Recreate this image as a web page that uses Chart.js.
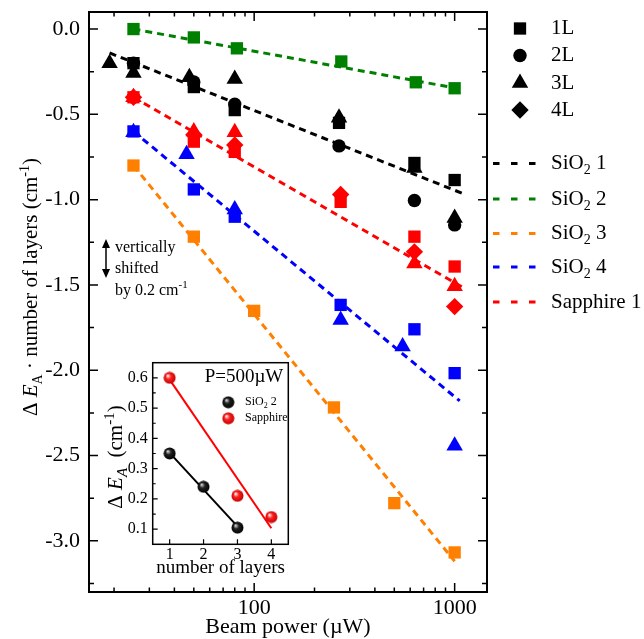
<!DOCTYPE html>
<html lang="en">
<head>
<meta charset="UTF-8">
<title>Delta E_A vs beam power</title>
<script src="https://cdn.jsdelivr.net/npm/chart.js"></script>
<style>
  body { margin: 0; background: #fff; }
  #wrap { position: relative; width: 644px; height: 639px; }
  #mainChart { position: absolute; left: 0; top: 0; }
  #insetChart { position: absolute; left: 95px; top: 355px; }
</style>
</head>
<body>
<div id="wrap">
  <canvas id="mainChart" width="644" height="639"></canvas>
  <canvas id="insetChart" width="200" height="225"></canvas>
</div>
<script>
// beam power (uW) per substrate, and dE_A * layers (cm-1) per layer count (null = no point)
const powerSiO2_1 = [19, 25, 47.5, 50, 80, 265, 630, 1000];
const sio2_1_1L = [null, -0.20, null, -0.34, -0.475, -0.55, -0.785, -0.885];
const sio2_1_2L = [null, -0.20, null, -0.31, -0.44, -0.685, -1.005, -1.148];
const sio2_1_3L = [-0.20, -0.257, -0.283, null, -0.293, -0.52, -0.815, -1.107];

const powerSiO2_2 = [25, 50, 82, 272, 640, 1000];
const sio2_2_1L = [0.0, -0.049, -0.113, -0.19, -0.312, -0.347];

const powerSiO2_3 = [25, 50, 100, 250, 500, 1000];
const sio2_3_1L = [-0.80, -1.217, -1.652, -2.218, -2.779, -3.068];

const powerSiO2_4 = [25, 46, 50, 80, 270, 550, 630, 1000];
const sio2_4_1L = [-0.60, null, -0.94, -1.10, -1.617, null, -1.76, -2.017];
const sio2_4_3L = [-0.605, -0.734, null, -1.058, -1.705, -1.861, null, -2.443];

const powerSapphire_1 = [25, 50, 80, 270, 630, 1000];
const sapphire_1_1L = [-0.40, -0.66, -0.72, -1.013, -1.217, -1.392];
const sapphire_1_2L = [-0.40, null, null, null, null, null];
const sapphire_1_3L = [-0.40, -0.60, -0.605, null, -1.375, -1.507];
const sapphire_1_4L = [-0.40, -0.62, -0.68, -0.97, -1.306, -1.627];

// dashed fit lines, end points
const fitSiO2_1_x = [19, 1130];    const fitSiO2_1_y = [-0.14, -0.97];
const fitSiO2_2_x = [25, 1000];    const fitSiO2_2_y = [0.0, -0.345];
const fitSiO2_3_x = [25, 1000];    const fitSiO2_3_y = [-0.80, -3.12];
const fitSiO2_4_x = [25, 1060];    const fitSiO2_4_y = [-0.60, -2.18];
const fitSapph_1_x = [25, 1100];   const fitSapph_1_y = [-0.40, -1.515];

// inset: P = 500 uW
const insetLayers = [1, 2, 3, 4];
const insetSiO2_2 = [0.35, 0.24, 0.105, null];
const insetSapphire = [0.60, null, 0.21, 0.14];
const insetFitSiO2_x = [1, 3];   const insetFitSiO2_y = [0.352, 0.109];
const insetFitSapph_x = [1, 4];  const insetFitSapph_y = [0.594, 0.103];

// ticks
const xMajorTicks = [100, 1000];
const xMinorTicks = [20, 30, 40, 50, 60, 70, 80, 90, 200, 300, 400, 500, 600, 700, 800, 900];
const yMajorTicks = [0, -0.5, -1, -1.5, -2, -2.5, -3];
const yMinorTicks = [-0.25, -0.75, -1.25, -1.75, -2.25, -2.75, -3.25];
const insetYMajor = [0.1, 0.2, 0.3, 0.4, 0.5, 0.6];
const insetYMinor = [0.15, 0.25, 0.35, 0.45, 0.55];
const insetXTicks = [1, 2, 3, 4];

const SERIF = '"Liberation Serif", "Times New Roman", serif';
const BLACK = '#000000', GREEN = '#008000', ORANGE = '#ff8000', BLUE = '#0000ff', RED = '#ff0000';

const shapes = {
  '1L': { pointStyle: 'rect', radius: 8.7 },
  '2L': { pointStyle: 'circle', radius: 6.7 },
  '3L': { pointStyle: 'triangle', radius: 9.5 },
  '4L': { pointStyle: 'rectRot', radius: 8.7 }
};

function pts(xs, ys) {
  return xs.map((x, i) => (ys[i] == null ? null : { x: x, y: ys[i] })).filter(p => p);
}

function markers(xs, ys, layer, color) {
  const s = shapes[layer];
  return {
    data: pts(xs, ys),
    pointStyle: s.pointStyle,
    pointRadius: s.radius,
    pointHoverRadius: s.radius,
    backgroundColor: color,
    borderWidth: 0,
    order: 0
  };
}

function fit(xs, ys, color) {
  return {
    data: pts(xs, ys),
    showLine: true,
    borderColor: color,
    borderWidth: 3,
    borderDash: [7, 5],
    pointRadius: 0,
    pointHoverRadius: 0,
    fill: false,
    order: 1
  };
}

// no extra padding for half-labels at the axis ends
function noPad(s) {
  s.paddingTop = 0; s.paddingBottom = 0; s.paddingLeft = 0; s.paddingRight = 0;
}

// draw a string made of parts: [text, size, style, dy]
function richWidth(ctx, parts) {
  let w = 0;
  parts.forEach(p => {
    ctx.font = (p[2] || '') + ' ' + p[1] + 'px ' + SERIF;
    w += ctx.measureText(p[0]).width;
  });
  return w;
}
function richText(ctx, parts, x, y) {
  let cx = x;
  parts.forEach(p => {
    ctx.font = (p[2] || '') + ' ' + p[1] + 'px ' + SERIF;
    ctx.fillText(p[0], cx, y + (p[3] || 0));
    cx += ctx.measureText(p[0]).width;
  });
}

const framePlugin = {
  id: 'frame',
  afterDatasetsDraw(chart) {
    const { ctx, chartArea: a } = chart;
    const x = chart.scales.x, y = chart.scales.y;
    ctx.save();
    ctx.strokeStyle = '#000';
    ctx.lineWidth = 1.5;
    ctx.beginPath();
    const xt = (v, len) => {
      const px = x.getPixelForValue(v);
      ctx.moveTo(px, a.bottom); ctx.lineTo(px, a.bottom - len);
      ctx.moveTo(px, a.top); ctx.lineTo(px, a.top + len);
    };
    const yt = (v, len) => {
      const py = y.getPixelForValue(v);
      ctx.moveTo(a.left, py); ctx.lineTo(a.left + len, py);
      ctx.moveTo(a.right, py); ctx.lineTo(a.right - len, py);
    };
    xMajorTicks.forEach(v => xt(v, 9));
    xMinorTicks.forEach(v => xt(v, 4.5));
    yMajorTicks.forEach(v => yt(v, 9));
    yMinorTicks.forEach(v => yt(v, 5));
    ctx.stroke();
    ctx.lineWidth = 2;
    ctx.strokeRect(a.left, a.top, a.right - a.left, a.bottom - a.top);
    ctx.restore();
  }
};

const textPlugin = {
  id: 'texts',
  afterDraw(chart) {
    const ctx = chart.ctx;
    const a = chart.chartArea;
    ctx.save();
    ctx.fillStyle = '#000';
    ctx.textBaseline = 'middle';

    // x title
    ctx.textAlign = 'center';
    ctx.font = '22px ' + SERIF;
    ctx.fillText('Beam power (\u00b5W)', (a.left + a.right) / 2, 627);

    // y title, rotated
    ctx.textAlign = 'left';
    ctx.textBaseline = 'alphabetic';
    const yTitle = [
      ['\u0394 ', 21], ['E', 21, 'italic'], ['A', 14, '', 5],
      [' \u00b7 number of layers (cm', 21], ['-1', 14, '', -8], [')', 21]
    ];
    const tw = richWidth(ctx, yTitle);
    ctx.save();
    ctx.translate(37, 287);
    ctx.rotate(-Math.PI / 2);
    richText(ctx, yTitle, -tw / 2, 0);
    ctx.restore();

    // shift note with double arrow
    ctx.strokeStyle = '#000';
    ctx.lineWidth = 1.5;
    ctx.beginPath();
    ctx.moveTo(106, 245); ctx.lineTo(106, 272);
    ctx.stroke();
    ctx.beginPath();
    ctx.moveTo(106, 239); ctx.lineTo(110, 248); ctx.lineTo(102, 248); ctx.closePath();
    ctx.moveTo(106, 278); ctx.lineTo(110, 269); ctx.lineTo(102, 269); ctx.closePath();
    ctx.fill();
    ctx.textBaseline = 'middle';
    ctx.font = '16px ' + SERIF;
    ctx.fillText('vertically', 115, 248);
    ctx.fillText('shifted', 115, 269);
    richText(ctx, [['by 0.2 cm', 16], ['-1', 11, '', -6]], 115, 291);

    // marker legend
    const H = Chart.helpers;
    const layerNames = ['1L', '2L', '3L', '4L'];
    const layerY = [28.5, 55.5, 83, 110];
    layerNames.forEach((n, i) => {
      const s = shapes[n];
      ctx.fillStyle = '#000';
      H.drawPoint(ctx, { pointStyle: s.pointStyle, radius: s.radius, rotation: 0, borderWidth: 0 }, 520, layerY[i]);
      ctx.font = '21px ' + SERIF;
      ctx.fillText(n, 551, layerY[i]);
    });

    // line legend
    const lineNames = [
      [['SiO', 21], ['2', 14, '', 7], [' 1', 21]],
      [['SiO', 21], ['2', 14, '', 7], [' 2', 21]],
      [['SiO', 21], ['2', 14, '', 7], [' 3', 21]],
      [['SiO', 21], ['2', 14, '', 7], [' 4', 21]],
      [['Sapphire 1', 21]]
    ];
    const lineColors = [BLACK, GREEN, ORANGE, BLUE, RED];
    const lineY = [163.5, 199, 233.5, 267, 302];
    lineNames.forEach((parts, i) => {
      ctx.strokeStyle = lineColors[i];
      ctx.lineWidth = 3;
      ctx.setLineDash([6.5, 11.5]);
      ctx.beginPath();
      ctx.moveTo(493, lineY[i]); ctx.lineTo(536, lineY[i]);
      ctx.stroke();
      ctx.setLineDash([]);
      ctx.fillStyle = '#000';
      richText(ctx, parts, 551, lineY[i]);
    });
    ctx.restore();
  }
};

const datasets = [
  markers(powerSiO2_1, sio2_1_1L, '1L', BLACK),
  markers(powerSiO2_1, sio2_1_2L, '2L', BLACK),
  markers(powerSiO2_1, sio2_1_3L, '3L', BLACK),
  markers(powerSiO2_2, sio2_2_1L, '1L', GREEN),
  markers(powerSiO2_3, sio2_3_1L, '1L', ORANGE),
  markers(powerSiO2_4, sio2_4_1L, '1L', BLUE),
  markers(powerSiO2_4, sio2_4_3L, '3L', BLUE),
  markers(powerSapphire_1, sapphire_1_1L, '1L', RED),
  markers(powerSapphire_1, sapphire_1_2L, '2L', RED),
  markers(powerSapphire_1, sapphire_1_3L, '3L', RED),
  markers(powerSapphire_1, sapphire_1_4L, '4L', RED),
  fit(fitSiO2_1_x, fitSiO2_1_y, BLACK),
  fit(fitSiO2_2_x, fitSiO2_2_y, GREEN),
  fit(fitSiO2_3_x, fitSiO2_3_y, ORANGE),
  fit(fitSiO2_4_x, fitSiO2_4_y, BLUE),
  fit(fitSapph_1_x, fitSapph_1_y, RED)
];

new Chart(document.getElementById('mainChart'), {
  type: 'scatter',
  data: { datasets: datasets },
  options: {
    responsive: false,
    animation: false,
    devicePixelRatio: 1,
    layout: { padding: { top: 12, right: 157, left: 0, bottom: 0 } },
    plugins: { legend: { display: false }, tooltip: { enabled: false } },
    scales: {
      x: {
        type: 'logarithmic',
        min: 15,
        max: 1450,
        grid: { display: false, drawTicks: false },
        border: { display: false },
        afterBuildTicks: s => { s.ticks = xMajorTicks.map(v => ({ value: v })); },
        afterFit: s => { s.height = 47; noPad(s); },
        ticks: {
          autoSkip: false, maxRotation: 0, padding: 3, color: '#000',
          font: { family: SERIF, size: 22 },
          callback: v => String(v)
        }
      },
      y: {
        min: -3.3,
        max: 0.1,
        grid: { display: false, drawTicks: false },
        border: { display: false },
        afterBuildTicks: s => { s.ticks = yMajorTicks.map(v => ({ value: v })); },
        afterFit: s => { s.width = 89; noPad(s); },
        ticks: {
          padding: 9, color: '#000',
          font: { family: SERIF, size: 22 },
          callback: v => v.toFixed(1)
        }
      }
    }
  },
  plugins: [framePlugin, textPlugin]
});

// ---- inset ----
function sphere(light, mid, dark) {
  const c = document.createElement('canvas');
  c.width = 13; c.height = 13;
  const g = c.getContext('2d');
  const grad = g.createRadialGradient(4.5, 4.2, 0.3, 6.5, 6.5, 6.3);
  grad.addColorStop(0, light);
  grad.addColorStop(0.4, mid);
  grad.addColorStop(1, dark);
  g.fillStyle = grad;
  g.beginPath();
  g.arc(6.5, 6.5, 6, 0, Math.PI * 2);
  g.fill();
  return c;
}
const blackBall = sphere('#d8d8d8', '#202020', '#000000');
const redBall = sphere('#ffffff', '#ff2020', '#c00000');

const insetPlugin = {
  id: 'insetDeco',
  beforeDatasetsDraw(chart) {
    const { ctx, chartArea: a } = chart;
    ctx.save();
    ctx.fillStyle = '#fff';
    ctx.fillRect(a.left, a.top, a.right - a.left, a.bottom - a.top);
    ctx.restore();
  },
  afterDraw(chart) {
    const { ctx, chartArea: a } = chart;
    const x = chart.scales.x, y = chart.scales.y;
    ctx.save();
    ctx.strokeStyle = '#000';
    ctx.lineWidth = 1.2;
    ctx.beginPath();
    insetYMajor.forEach(v => { const py = y.getPixelForValue(v); ctx.moveTo(a.left, py); ctx.lineTo(a.left + 5, py); });
    insetYMinor.forEach(v => { const py = y.getPixelForValue(v); ctx.moveTo(a.left, py); ctx.lineTo(a.left + 3, py); });
    insetXTicks.forEach(v => { const px = x.getPixelForValue(v); ctx.moveTo(px, a.bottom); ctx.lineTo(px, a.bottom - 5); });
    ctx.stroke();
    ctx.lineWidth = 1.5;
    ctx.strokeRect(a.left, a.top, a.right - a.left, a.bottom - a.top);

    ctx.fillStyle = '#000';
    ctx.textBaseline = 'middle';
    ctx.textAlign = 'right';
    ctx.font = '19px ' + SERIF;
    ctx.fillText('P=500\u00b5W', a.right - 5, 21.7);

    ctx.textAlign = 'left';
    ctx.drawImage(blackBall, 133.3 - 6.5, 47.3 - 6.5);
    ctx.drawImage(redBall, 133.3 - 6.5, 63.3 - 6.5);
    richText(ctx, [['SiO', 12], ['2', 8, '', 4], [' 2', 12]], 150, 47.3);
    richText(ctx, [['Sapphire', 12]], 150, 63.3);

    ctx.textAlign = 'center';
    ctx.font = '19px ' + SERIF;
    ctx.fillText('number of layers', (a.left + a.right) / 2, 213);

    ctx.textAlign = 'left';
    ctx.textBaseline = 'alphabetic';
    const t = [['\u0394 ', 21], ['E', 21, 'italic'], ['A', 15, 'italic', 5], ['  (cm', 21], ['-1', 15, '', -8], [')', 21]];
    const tw = richWidth(ctx, t);
    ctx.translate(27, 102);
    ctx.rotate(-Math.PI / 2);
    richText(ctx, t, -tw / 2, 0);
    ctx.restore();
  }
};

new Chart(document.getElementById('insetChart'), {
  type: 'scatter',
  data: {
    datasets: [
      { data: pts(insetLayers, insetSiO2_2), pointStyle: blackBall, order: 0 },
      { data: pts(insetLayers, insetSapphire), pointStyle: redBall, order: 0 },
      { data: pts(insetFitSiO2_x, insetFitSiO2_y), showLine: true, borderColor: '#000', borderWidth: 2, pointRadius: 0, order: 1 },
      { data: pts(insetFitSapph_x, insetFitSapph_y), showLine: true, borderColor: RED, borderWidth: 2, pointRadius: 0, order: 1 }
    ]
  },
  options: {
    responsive: false,
    animation: false,
    devicePixelRatio: 1,
    layout: { padding: { top: 7.7, right: 6.7, left: 0, bottom: 0 } },
    plugins: { legend: { display: false }, tooltip: { enabled: false } },
    scales: {
      x: {
        type: 'linear', min: 0.5, max: 4.5,
        grid: { display: false, drawTicks: false },
        border: { display: false },
        afterBuildTicks: s => { s.ticks = insetXTicks.map(v => ({ value: v })); },
        afterFit: s => { s.height = 35.7; noPad(s); },
        ticks: { padding: 1, color: '#000', font: { family: SERIF, size: 16 }, callback: v => String(v) }
      },
      y: {
        min: 0.05, max: 0.65,
        grid: { display: false, drawTicks: false },
        border: { display: false },
        afterBuildTicks: s => { s.ticks = insetYMajor.map(v => ({ value: v })); },
        afterFit: s => { s.width = 57.7; noPad(s); },
        ticks: { padding: 5, color: '#000', font: { family: SERIF, size: 16 }, callback: v => v.toFixed(1) }
      }
    }
  },
  plugins: [insetPlugin]
});
</script>
</body>
</html>
